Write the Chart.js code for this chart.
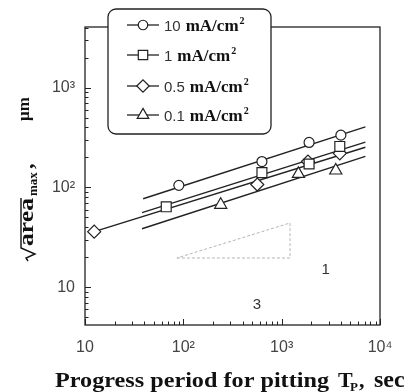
<!DOCTYPE html>
<html>
<head>
<meta charset="utf-8">
<script src="https://cdn.jsdelivr.net/npm/chart.js@4.4.1/dist/chart.umd.min.js"></script>
<style>
  html, body { margin: 0; padding: 0; background: #fff; }
  #wrap { width: 412px; height: 392px; }
</style>
</head>
<body>
<div id="wrap"><canvas id="chart" width="412" height="392"></canvas></div>
<script>
// ── Data ──────────────────────────────────────────────────────────────────
const legendNums  = ["10", "1", "0.5", "0.1"];
const markerStyle = ["circle", "rect", "rectRot", "triangle"];
const markerSize  = [5, 7, 6.5, 7];

// measured points: Tp (sec) vs sqrt(area_max) (µm)
const tp10  = [90, 630, 1900, 4000];
const sz10  = [105, 182, 283, 335];
const tp1   = [67, 630, 1900, 3900];
const sz1   = [64, 141, 172, 258];
const tp05  = [12.4, 565, 1850, 3900];
const sz05  = [36, 107, 182, 220];
const tp01  = [240, 1480, 3550];
const sz01  = [67, 137, 148];

// fitted lines (end points)
const fit10X = [39, 7100],   fit10Y = [77, 405];
const fit1X  = [38, 7100],   fit1Y  = [56, 285];
const fit05X = [12.4, 7100], fit05Y = [36, 253];
const fit01X = [38, 7100],   fit01Y = [38.5, 205];

// slope 1/3 guide triangle
const slopeX = [86, 1216, 1216, 86];
const slopeY = [19.6, 19.6, 44, 19.6];
const slopeLabels = ["1", "3"];
const slopeLabelX = [2800, 560];
const slopeLabelY = [15, 6.7];

// axes
const xTickVals = [10, 100, 1000, 10000];
const yTickVals = [10, 100, 1000];
const tickText  = { 10: "10", 100: "10\u00B2", 1000: "10\u00B3", 10000: "10\u2074" };
const X_MIN = 10, X_MAX = 10000;
const Y_MIN = Math.pow(10, 0.62), Y_MAX = Math.pow(10, 3.61);

const INK = "#222";
const SERIF = "'Liberation Serif', 'Times New Roman', serif";
const pts = (xs, ys) => xs.map((x, i) => ({ x, y: ys[i] }));

// ── Helpers ───────────────────────────────────────────────────────────────
function logTicks(min, max) {
  const out = [];
  for (let e = Math.floor(Math.log10(min)); e <= Math.ceil(Math.log10(max)); e++) {
    for (let m = 1; m <= 9; m++) {
      const v = m * Math.pow(10, e);
      if (v >= min * 0.999 && v <= max * 1.001) out.push({ v, major: m === 1 });
    }
  }
  return out;
}

function marker(ctx, style, r, x, y) {
  ctx.save();
  ctx.fillStyle = "#fff";
  ctx.strokeStyle = INK;
  ctx.lineWidth = 1.2;
  Chart.helpers.drawPoint(ctx, { pointStyle: style, radius: r, borderWidth: 1.2, rotation: 0 }, x, y);
  ctx.restore();
}

// ── Decorations: frame, inward ticks, legend, titles ──────────────────────
const decor = {
  id: "decor",
  beforeDatasetsDraw(chart) {
    const { ctx, chartArea: a } = chart;
    ctx.save();
    ctx.strokeStyle = INK;
    ctx.lineWidth = 1.3;
    ctx.strokeRect(a.left, a.top, a.right - a.left, a.bottom - a.top);
    ctx.restore();
  },
  afterDraw(chart) {
    const { ctx, chartArea: a, scales: { x, y } } = chart;
    ctx.save();

    // inward ticks on left and bottom axes
    ctx.strokeStyle = INK;
    ctx.lineWidth = 1;
    ctx.beginPath();
    for (const t of logTicks(Y_MIN, Y_MAX)) {
      const py = Math.round(y.getPixelForValue(t.v)) + 0.5;
      ctx.moveTo(a.left, py);
      ctx.lineTo(a.left + (t.major ? 6 : 3.5), py);
    }
    for (const t of logTicks(X_MIN, X_MAX)) {
      const px = Math.round(x.getPixelForValue(t.v)) + 0.5;
      ctx.moveTo(px, a.bottom);
      ctx.lineTo(px, a.bottom - (t.major ? 6 : 3.5));
    }
    ctx.stroke();

    // slope labels
    ctx.fillStyle = "#333";
    ctx.font = "15px 'Liberation Sans', Arial, sans-serif";
    ctx.textAlign = "center";
    ctx.textBaseline = "middle";
    slopeLabels.forEach((s, i) => {
      ctx.fillText(s, x.getPixelForValue(slopeLabelX[i]), y.getPixelForValue(slopeLabelY[i]));
    });

    // legend box
    const bx = 108, by = 9, bw = 163, bh = 125;
    ctx.beginPath();
    ctx.roundRect(bx, by, bw, bh, 8);
    ctx.fillStyle = "#fff";
    ctx.fill();
    ctx.strokeStyle = INK;
    ctx.lineWidth = 1.3;
    ctx.stroke();

    const rowY = [25, 55, 86, 115];
    legendNums.forEach((num, i) => {
      const ly = rowY[i];
      ctx.beginPath();
      ctx.moveTo(127, ly); ctx.lineTo(159, ly);
      ctx.strokeStyle = INK; ctx.lineWidth = 1.3;
      ctx.stroke();
      marker(ctx, markerStyle[i], markerSize[i] * 0.95, 143, ly);

      ctx.textAlign = "left";
      ctx.textBaseline = "alphabetic";
      ctx.fillStyle = "#333";
      ctx.font = "15px 'Liberation Sans', Arial, sans-serif";
      let tx = 164;
      ctx.fillText(num, tx, ly + 5.5);
      tx += ctx.measureText(num).width + 5;
      ctx.fillStyle = "#111";
      ctx.font = "bold 17px " + SERIF;
      ctx.fillText("mA/cm", tx, ly + 5.5);
      tx += ctx.measureText("mA/cm").width + 1;
      ctx.font = "bold 10px " + SERIF;
      ctx.fillText("2", tx, ly - 1.5);
    });

    // x axis title
    ctx.fillStyle = "#111";
    ctx.textAlign = "left";
    ctx.textBaseline = "alphabetic";
    ctx.font = "bold 22px " + SERIF;
    const main = "Progress period for pitting";
    const w = ctx.measureText(main).width;
    ctx.save();
    ctx.translate(55, 387);
    ctx.scale(Math.min(1.15, 274 / w), 1);
    ctx.fillText(main, 0, 0);
    ctx.restore();
    ctx.fillText("T", 338, 387);
    ctx.font = "bold 13px " + SERIF;
    ctx.fillText("P", 350, 391);
    ctx.font = "bold 22px " + SERIF;
    ctx.fillText(",", 359, 387);
    ctx.font = "bold 24px " + SERIF;
    ctx.fillText("sec", 374, 387);

    // y axis title: sqrt(area_max) , µm  (rotated)
    ctx.save();
    ctx.translate(33, 262);
    ctx.rotate(-Math.PI / 2);
    ctx.strokeStyle = "#111";
    ctx.lineWidth = 1.4;
    ctx.font = "bold 22px " + SERIF;
    const aw = ctx.measureText("area").width;
    const sx = 48 / aw;
    ctx.beginPath();
    ctx.moveTo(1, -5); ctx.lineTo(4, -7);
    ctx.lineTo(8, 2);
    ctx.lineTo(14, -12);
    ctx.lineTo(16 + 48, -12);
    ctx.stroke();
    ctx.save();
    ctx.translate(16, 0);
    ctx.scale(sx, 1);
    ctx.fillText("area", 0, 0);
    ctx.restore();
    ctx.font = "bold 13px " + SERIF;
    ctx.fillText("max", 66, 4);
    ctx.font = "bold 22px " + SERIF;
    ctx.fillText(",", 93, 0);
    ctx.font = "bold 17px " + SERIF;
    ctx.fillText("\u03BCm", 141, -4);
    ctx.restore();

    ctx.restore();
  }
};

// ── Datasets ──────────────────────────────────────────────────────────────
function markerSet(xs, ys, i) {
  return {
    type: "scatter",
    data: pts(xs, ys),
    showLine: false,
    pointStyle: markerStyle[i],
    pointRadius: markerSize[i],
    pointBackgroundColor: "#fff",
    pointBorderColor: INK,
    pointBorderWidth: 1.2
  };
}
function lineSet(xs, ys) {
  return {
    type: "line",
    data: pts(xs, ys),
    borderColor: INK,
    borderWidth: 1.4,
    pointRadius: 0,
    fill: false
  };
}

const datasets = [
  markerSet(tp10, sz10, 0),
  markerSet(tp1,  sz1,  1),
  markerSet(tp05, sz05, 2),
  markerSet(tp01, sz01, 3),
  lineSet(fit10X, fit10Y),
  lineSet(fit1X,  fit1Y),
  lineSet(fit05X, fit05Y),
  lineSet(fit01X, fit01Y),
  {
    type: "line",
    data: pts(slopeX, slopeY),
    borderColor: "#b5b5b5",
    borderWidth: 1,
    borderDash: [3, 2],
    pointRadius: 0,
    fill: false
  }
];

const tickFont = { family: "'Liberation Sans', Arial, sans-serif", size: 16 };

new Chart(document.getElementById("chart").getContext("2d"), {
  type: "scatter",
  data: { datasets },
  options: {
    responsive: false,
    devicePixelRatio: 1,
    animation: false,
    layout: { padding: { top: 27, right: 32, left: 0, bottom: 0 } },
    plugins: { legend: { display: false }, tooltip: { enabled: false } },
    scales: {
      x: {
        type: "logarithmic",
        min: X_MIN, max: X_MAX,
        grid: { display: false, drawTicks: false },
        border: { display: false },
        ticks: {
          font: tickFont, color: "#444", padding: 13,
          autoSkip: false, maxRotation: 0,
          callback: v => tickText[v] ?? ""
        },
        afterBuildTicks: s => { s.ticks = xTickVals.map(v => ({ value: v })); },
        afterFit: s => { s.height = 67; }
      },
      y: {
        type: "logarithmic",
        min: Y_MIN, max: Y_MAX,
        grid: { display: false, drawTicks: false },
        border: { display: false },
        ticks: {
          font: tickFont, color: "#444", padding: 10,
          autoSkip: false,
          callback: v => tickText[v] ?? ""
        },
        afterBuildTicks: s => { s.ticks = yTickVals.map(v => ({ value: v })); },
        afterFit: s => { s.width = 85; }
      }
    }
  },
  plugins: [decor]
});
</script>
</body>
</html>
